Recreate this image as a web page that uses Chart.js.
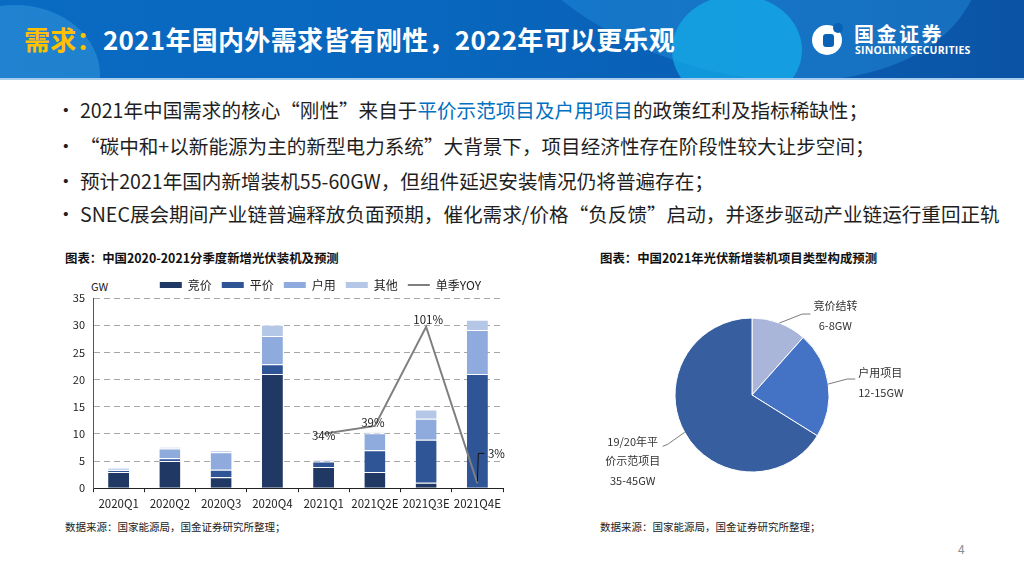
<!DOCTYPE html>
<html lang="zh-CN">
<head>
<meta charset="utf-8">
<script src="https://cdn.jsdelivr.net/npm/chart.js@4.4.1/dist/chart.umd.min.js"></script>
<style>
  body { margin: 0; width: 1024px; height: 576px; position: relative; overflow: hidden; background: #fff;
         font-family: "Noto Sans CJK SC", "Noto Sans", sans-serif; color: #1f1f1f; }
  .hdr { position: absolute; left: 0; top: 0; width: 1024px; height: 78px; overflow: hidden;
         background: linear-gradient(90deg, #0a6bc3 0%, #0866bd 45%, #0a5eb3 75%, #0b53a4 100%);
         border-bottom: 2px solid #a9cdee; }
  .blob { position: absolute; border-radius: 50%; }
  .title { position: absolute; left: 24px; top: 20px; font-size: 26px; font-weight: 700; color: #fff;
           line-height: 38px; white-space: nowrap; letter-spacing: 0.3px; }
  .title span { color: #ffc000; }
  .logo-txt { position: absolute; left: 854px; top: 23px; color: #fff; font-weight: 700; font-size: 20px;
              letter-spacing: 2.5px; line-height: 22px; }
  .logo-sub { position: absolute; left: 855px; top: 43px; color: #fff; font-weight: 700; font-size: 10.5px;
              font-family: "Open Sans", "Noto Sans", sans-serif; letter-spacing: 0.2px; }
  .bul { position: absolute; left: 56px; font-size: 19.6px; line-height: 26px; white-space: nowrap; color: #1f1f1f; }
  .bul b { font-weight: 400; display: inline-block; width: 24px; }
  .hl { color: #0070c0; }
  .ctitle { position: absolute; top: 249px; font-size: 12.4px; font-weight: 700; color: #111; white-space: nowrap; }
  .src { position: absolute; top: 519px; font-size: 10.5px; color: #222; white-space: nowrap; }
  .gw { position: absolute; left: 91px; top: 278px; font-size: 11px; color: #222; }
  .pg { position: absolute; left: 958px; top: 540px; font-size: 12px; color: #8c8c8c; }
</style>
</head>
<body>
<div class="hdr">
  <div class="blob" style="left:-70px;top:5px;width:170px;height:140px;background:rgba(60,160,225,0.45);"></div>
  <div class="blob" style="left:470px;top:-260px;width:520px;height:330px;transform:rotate(18deg);background:rgba(40,150,225,0.4);"></div>
  <div class="blob" style="left:672px;top:-5px;width:130px;height:110px;background:rgba(20,175,235,0.7);"></div>
  <div class="title"><span>需求：</span>2021年国内外需求皆有刚性，2022年可以更乐观</div>
  <div class="blob" style="left:812px;top:25px;width:30px;height:30px;background:#fff;"></div>
  <div class="blob" style="left:833px;top:23px;width:10px;height:10px;background:#0a62b6;"></div>
  <div style="position:absolute;left:823px;top:34px;width:11px;height:13px;border-radius:3px;background:#0a62b6;"></div>
  <div class="logo-txt">国金证券</div>
  <div class="logo-sub">SINOLINK SECURITIES</div>
</div>

<div class="bul" style="top:97px;"><b>•</b>2021年中国需求的核心“刚性”来自于<span class="hl">平价示范项目及户用项目</span>的政策红利及指标稀缺性；</div>
<div class="bul" style="top:133px;"><b>•</b>“碳中和+以新能源为主的新型电力系统”大背景下，项目经济性存在阶段性较大让步空间；</div>
<div class="bul" style="top:168px;"><b>•</b>预计2021年国内新增装机55-60GW，但组件延迟安装情况仍将普遍存在；</div>
<div class="bul" style="top:201px;"><b>•</b>SNEC展会期间产业链普遍释放负面预期，催化需求/价格“负反馈”启动，并逐步驱动产业链运行重回正轨</div>

<div class="ctitle" style="left:65px;">图表：中国2020-2021分季度新增光伏装机及预测</div>
<div class="ctitle" style="left:600px;">图表：中国2021年光伏新增装机项目类型构成预测</div>
<div class="gw">GW</div>

<div style="position:absolute;left:55px;top:266px;width:465px;height:250px;"><canvas id="bar"></canvas></div>
<div style="position:absolute;left:600px;top:280px;width:304px;height:230px;"><canvas id="pie"></canvas></div>

<div class="src" style="left:65px;">数据来源：国家能源局，国金证券研究所整理；</div>
<div class="src" style="left:600px;">数据来源：国家能源局，国金证券研究所整理；</div>
<div class="pg">4</div>

<script>
// quarterly additions, GW
var quarters = ["2020Q1", "2020Q2", "2020Q3", "2020Q4", "2021Q1", "2021Q2E", "2021Q3E", "2021Q4E"];
var bidding = [3.0, 5.0, 2.0, 21.0, 3.9, 3.0, 1.0, 0];
var parity = [0.3, 0.5, 1.4, 1.8, 1.0, 4.0, 7.9, 21.0];
var household = [0.3, 1.8, 3.2, 5.2, 0.15, 3.1, 3.9, 8.1];
var others = [0.1, 0.3, 0.4, 2.1, 0.15, 0.2, 1.7, 1.9];
var yoy = [null, null, null, null, 34, 39, 101, 3];
var yTicks = [0, 5, 10, 15, 20, 25, 30, 35];

// 2021 project mix
var pieLabels = ["竞价结转", "户用项目", "19/20年平价示范项目"];
var pieRanges = ["6-8GW", "12-15GW", "35-45GW"];
var pieValues = [7, 13.5, 40];

var fontFamily = '"Noto Sans CJK SC", "Noto Sans", sans-serif';
Chart.defaults.font.family = fontFamily;
Chart.defaults.color = "#222";

var yoyLabels = {
  id: "yoyLabels",
  afterLayout: function (chart) {
    // nudge the legend row left, as in the source slide
    chart.legend.left -= 12;
    chart.legend.right -= 12;
    chart.legend.top += 3;
    chart.legend.bottom += 3;
  },
  afterDatasetsDraw: function (chart) {
    var meta = chart.getDatasetMeta(4);
    var ctx = chart.ctx;
    // label offsets from each point
    var off = { 4: [0, 2], 5: [-2, -3], 6: [2, -7], 7: [19, -30] };
    ctx.save();
    ctx.font = "11.5px " + fontFamily;
    ctx.fillStyle = "#222";
    ctx.textAlign = "center";
    ctx.textBaseline = "middle";
    meta.data.forEach(function (pt, i) {
      if (yoy[i] == null) return;
      var o = off[i];
      var tx = pt.x + o[0], ty = pt.y + o[1];
      if (i === 7) {
        ctx.strokeStyle = "#111";
        ctx.lineWidth = 1;
        ctx.beginPath();
        ctx.moveTo(pt.x, pt.y - 2);
        ctx.lineTo(pt.x + 1, ty);
        ctx.lineTo(pt.x + 7, ty);
        ctx.stroke();
      }
      ctx.fillText(yoy[i] + "%", tx, ty);
    });
    ctx.restore();
  }
};

new Chart(document.getElementById("bar"), {
  data: {
    labels: quarters,
    datasets: [
      { type: "bar", label: "竞价", data: bidding, backgroundColor: "#203864", stack: "s", order: 2 },
      { type: "bar", label: "平价", data: parity, backgroundColor: "#2f5597", stack: "s", order: 2 },
      { type: "bar", label: "户用", data: household, backgroundColor: "#8faadc", stack: "s", order: 2 },
      { type: "bar", label: "其他", data: others, backgroundColor: "#b4c7e7", stack: "s", order: 2 },
      { type: "line", label: "单季YOY", data: yoy, borderColor: "#7f7f7f", backgroundColor: "#7f7f7f",
        borderWidth: 2, pointRadius: 0, yAxisID: "y2", order: 1, spanGaps: false }
    ]
  },
  options: {
    responsive: true,
    maintainAspectRatio: false,
    animation: false,
    datasets: { bar: { categoryPercentage: 1, barPercentage: 0.41, borderColor: "#ffffff",
                       borderWidth: { top: 1, left: 0, right: 0, bottom: 0 }, borderSkipped: false } },
    layout: { padding: { right: 17, top: 0 } },
    plugins: {
      legend: {
        position: "top",
        align: "end",
        fullSize: false,
        labels: {
          usePointStyle: true, pointStyleWidth: 22, boxHeight: 6, padding: 10,
          font: { size: 12 }, color: "#222",
          sort: function (a, b) { return a.datasetIndex - b.datasetIndex; },
          generateLabels: function (chart) {
            var items = Chart.defaults.plugins.legend.labels.generateLabels(chart);
            items.forEach(function (it) {
              if (it.datasetIndex === 4) { it.pointStyle = "line"; it.lineWidth = 2; it.strokeStyle = "#7f7f7f"; }
              else { it.pointStyle = "rect"; it.lineWidth = 0; }
            });
            return items;
          }
        }
      },
      tooltip: { enabled: false }
    },
    scales: {
      x: {
        stacked: true,
        grid: { offset: true, drawOnChartArea: false, drawTicks: true, tickLength: 4, color: "#222" },
        border: { color: "#222" },
        ticks: { font: { size: 11.5 }, color: "#222", padding: 5, maxRotation: 0, autoSkip: false }
      },
      y: {
        stacked: true, min: 0, max: 35,
        afterBuildTicks: function (s) { s.ticks = yTicks.map(function (v) { return { value: v }; }); },
        afterFit: function (s) { s.width = 38; },
        grid: { color: "#a6a6a6", drawTicks: false },
        border: { color: "#555", dash: [6, 4] },
        ticks: { font: { size: 11 }, color: "#222", padding: 8 }
      },
      y2: { display: false, min: 0, max: 119 }
    }
  },
  plugins: [yoyLabels]
});

var pieLeaders = {
  id: "pieLeaders",
  afterDatasetsDraw: function (chart) {
    var meta = chart.getDatasetMeta(0);
    var ctx = chart.ctx;
    // elbow, line end, text anchor (relative to slice edge point), alignment
    var lay = [
      { elbow: [23, -9], end: [31, -9], text: [56, -17], align: "center" },
      { elbow: [19, -5], end: [27, -5], text: [30, -11], align: "left" },
      { elbow: [-17, 12], end: [-22, 14], text: [-52, 9], align: "center" }
    ];
    ctx.save();
    ctx.strokeStyle = "#595959";
    ctx.lineWidth = 0.8;
    ctx.font = "11px " + fontFamily;
    ctx.fillStyle = "#333";
    ctx.textBaseline = "middle";
    meta.data.forEach(function (arc, i) {
      var mid = (arc.startAngle + arc.endAngle) / 2;
      var sx = arc.x + Math.cos(mid) * arc.outerRadius;
      var sy = arc.y + Math.sin(mid) * arc.outerRadius;
      var L = lay[i];
      ctx.beginPath();
      ctx.moveTo(sx, sy);
      ctx.lineTo(sx + L.elbow[0], sy + L.elbow[1]);
      ctx.lineTo(sx + L.end[0], sy + L.end[1]);
      ctx.stroke();
      ctx.textAlign = L.align;
      var lines = i === 2 ? ["19/20年平", "价示范项目", pieRanges[i]] : [pieLabels[i], pieRanges[i]];
      lines.forEach(function (t, k) {
        ctx.fillText(t, sx + L.text[0], sy + L.text[1] + k * 19.5);
      });
    });
    ctx.restore();
  }
};

new Chart(document.getElementById("pie"), {
  type: "pie",
  data: {
    labels: pieLabels,
    datasets: [{ data: pieValues, backgroundColor: ["#a9b6da", "#4472c4", "#375e9e"],
                 borderColor: "#ffffff", borderWidth: 1, radius: 77 }]
  },
  options: {
    responsive: true,
    maintainAspectRatio: false,
    animation: false,
    plugins: { legend: { display: false }, tooltip: { enabled: false } }
  },
  plugins: [pieLeaders]
});
</script>
</body>
</html>
